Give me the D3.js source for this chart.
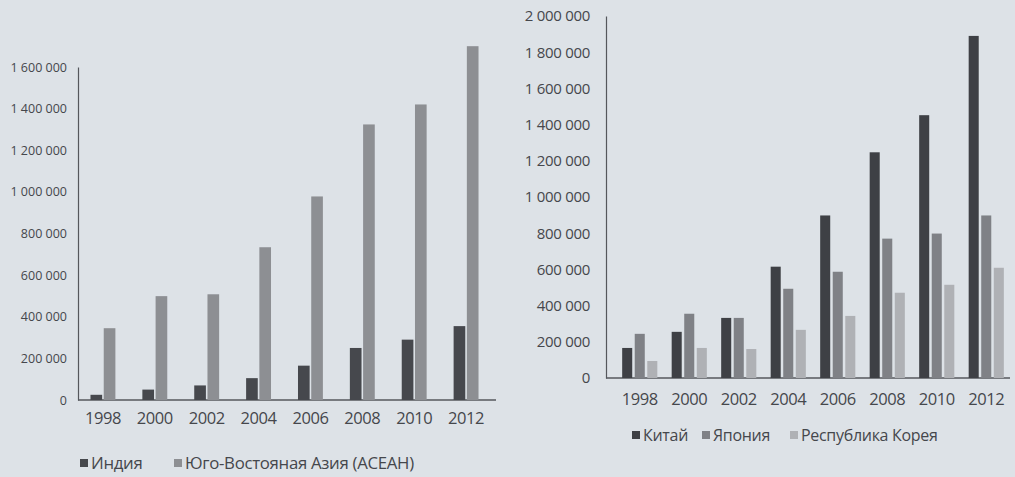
<!DOCTYPE html>
<html><head><meta charset="utf-8">
<script src="https://cdn.jsdelivr.net/npm/d3@7"></script>
<style>
html,body{margin:0;padding:0;background:#dde2e7;}
svg{display:block;}
text{font-family:"Open Sans","DejaVu Sans",sans-serif;fill:#45474c;}
</style></head><body>
<svg id="c" width="1015" height="477"></svg>
<script>
const years = ["1998","2000","2002","2004","2006","2008","2010","2012"];
// Left chart
const leftSeries = ["Индия","Юго-Востояная Азия (АСЕАН)"];
const india = [25000, 50000, 70000, 105000, 165000, 250000, 290000, 355000];
const asean = [345000, 499000, 508000, 734000, 978000, 1324000, 1420000, 1700000];
const leftTicks = [0,200000,400000,600000,800000,1000000,1200000,1400000,1600000];
// Right chart
const rightSeries = ["Китай","Япония","Республика Корея"];
const china = [166000, 255000, 332000, 615000, 898000, 1247000, 1452000, 1890000];
const japan = [244000, 355000, 332000, 493000, 587000, 770000, 798000, 898000];
const korea = [94000, 166000, 160000, 266000, 343000, 471000, 515000, 609000];
const rightTicks = [0,200000,400000,600000,800000,1000000,1200000,1400000,1600000,1800000,2000000];

const svg = d3.select("#c");
const fmt = v => d3.format(",")(v).replace(/,/g, " ");
const axisColor = "#55575c";

function chart(cfg){
  const g = svg.append("g");
  const x = d3.scaleBand().domain(years).range([cfg.r0, cfg.r1]).paddingInner(cfg.padIn).paddingOuter(cfg.padIn/2);
  const y = d3.scaleLinear().domain([0, cfg.max]).range([cfg.y0, cfg.y1]);
  const xs = d3.scaleBand().domain(cfg.names).range([0, x.bandwidth()]).paddingInner(cfg.subPad);
  // axes
  const ya = d3.axisLeft(y).tickValues(cfg.ticks).tickFormat(fmt).tickSize(0).tickPadding(cfg.tickPad);
  const yg = g.append("g").attr("transform",`translate(${cfg.x0},0)`).call(ya);
  yg.select(".domain").attr("stroke",axisColor).attr("stroke-width",1.2);
  yg.selectAll("text").style("font-size",cfg.yFont+"px").attr("letter-spacing",cfg.yLs+"px").style("font-family","'Open Sans',sans-serif").style("fill","#45474c");
  const xa = d3.axisBottom(x).tickSize(0).tickPadding(cfg.xPad);
  const xg = g.append("g").attr("transform",`translate(0,${cfg.y0})`).call(xa);
  xg.select(".domain").attr("d",`M${cfg.x0},0H${cfg.xEnd}`).attr("stroke",axisColor).attr("stroke-width",1.6);
  xg.selectAll("text").style("font-size","16.5px").attr("letter-spacing","-0.4px").style("font-family","'Open Sans',sans-serif").style("fill","#45474c");
  // bars
  cfg.names.forEach((n,i)=>{
    g.append("g").selectAll("rect").data(cfg.values[i]).join("rect")
      .attr("x",(d,j)=>x(years[j])+xs(n))
      .attr("width",xs.bandwidth())
      .attr("y",d=>y(d))
      .attr("height",d=>cfg.y0-y(d))
      .attr("fill",cfg.colors[i]);
  });
  // legend
  const lg = g.append("g").attr("transform",`translate(0,${cfg.legY})`);
  cfg.names.forEach((n,i)=>{
    lg.append("rect").attr("x",cfg.legX[i]).attr("y",-4).attr("width",8).attr("height",8).attr("fill",cfg.colors[i]);
    lg.append("text").attr("x",cfg.legX[i]+11).attr("y",0).attr("dy","0.35em").style("font-size",cfg.legFont+"px").attr("letter-spacing","-0.3px").text(n);
  });
}

chart({
  x0:78, r0:77, r1:492, xEnd:496, y0:400, y1:67, max:1600000, padIn:0.52, subPad:0.12,
  ticks:leftTicks, tickPad:11, yFont:12.5, yLs:0, xPad:12,
  names:leftSeries, values:[india, asean], colors:["#46484d","#8d8f93"],
  legY:463, legX:[80,174], legFont:16.8
});
chart({
  x0:606, r0:615, r1:1011, xEnd:1010, y0:378, y1:16, max:2000000, padIn:0.29, subPad:0.2,
  ticks:rightTicks, tickPad:16, yFont:15, yLs:-0.3, xPad:15,
  names:rightSeries, values:[china, japan, korea], colors:["#3e4045","#7f8186","#afb1b5"],
  legY:435, legX:[632,702,790], legFont:16
});
</script>
</body></html>
